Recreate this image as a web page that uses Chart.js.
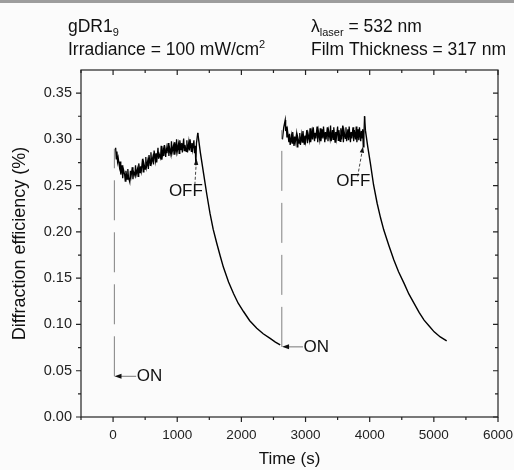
<!DOCTYPE html>
<html>
<head>
<meta charset="utf-8">
<script src="https://cdn.jsdelivr.net/npm/chart.js@4.4.0/dist/chart.umd.min.js"></script>
<style>
  html, body { margin: 0; padding: 0; background: #fbfbfb; }
  #box { width: 514px; height: 470px; }
</style>
</head>
<body>
<div id="box"><canvas id="myChart" width="514" height="470"></canvas></div>
<script>
// tick labels
var xTicks = [0, 1000, 2000, 3000, 4000, 5000, 6000];
var xMinor = [-500, 500, 1500, 2500, 3500, 4500, 5500];
var yTicks = [0, 0.05, 0.10, 0.15, 0.20, 0.25, 0.30, 0.35];
var yMinor = [0.025, 0.075, 0.125, 0.175, 0.225, 0.275, 0.325];

// first writing (laser ON at t=0)
var plateau1Time = [40, 50, 60, 70, 80, 100, 110, 120, 140, 150,
    160, 180, 190, 200, 220, 230, 240, 260, 270, 280,
    300, 310, 320, 340, 350, 360, 380, 390, 400, 420,
    430, 440, 460, 470, 480, 500, 510, 520, 540, 550,
    560, 580, 590, 600, 620, 630, 640, 660, 670, 680,
    700, 710, 720, 740, 750, 760, 780, 790, 800, 820,
    830, 840, 860, 870, 880, 900, 910, 920, 940, 950,
    960, 980, 990, 1000, 1020, 1030, 1040, 1060, 1070, 1080,
    1100, 1110, 1120, 1140, 1150, 1160, 1180, 1190, 1200, 1220,
    1230, 1240, 1260, 1270, 1280, 1290, 1300, 1320];
var plateau1Value = [0.291, 0.279, 0.287, 0.276, 0.280, 0.270, 0.276, 0.262, 0.272, 0.258,
    0.268, 0.262, 0.255, 0.266, 0.257, 0.268, 0.259, 0.254, 0.266, 0.260,
    0.270, 0.257, 0.265, 0.261, 0.272, 0.262, 0.268, 0.260, 0.274, 0.264,
    0.271, 0.266, 0.279, 0.265, 0.274, 0.268, 0.281, 0.270, 0.277, 0.268,
    0.283, 0.272, 0.286, 0.275, 0.281, 0.273, 0.288, 0.277, 0.285, 0.275,
    0.291, 0.279, 0.284, 0.280, 0.293, 0.278, 0.288, 0.282, 0.294, 0.281,
    0.290, 0.285, 0.296, 0.282, 0.291, 0.284, 0.298, 0.286, 0.293, 0.284,
    0.297, 0.288, 0.300, 0.287, 0.295, 0.285, 0.299, 0.289, 0.296, 0.286,
    0.301, 0.288, 0.294, 0.287, 0.299, 0.286, 0.297, 0.288, 0.300, 0.287,
    0.296, 0.289, 0.299, 0.285, 0.293, 0.272, 0.296, 0.307];
var decay1Time = [1320, 1360, 1411, 1460, 1511, 1560, 1615, 1670, 1719, 1800, 1877, 1950, 2033, 2130, 2240, 2340, 2448, 2530, 2605];
var decay1Value = [0.307, 0.286, 0.263, 0.241, 0.220, 0.203, 0.188, 0.174, 0.162, 0.146, 0.1335, 0.123, 0.114, 0.104, 0.096, 0.090, 0.085, 0.081, 0.078];

// second writing
var plateau2Time = [2640, 2660, 2683, 2690, 2700, 2710, 2720, 2740, 2750, 2760,
    2780, 2790, 2800, 2820, 2830, 2840, 2860, 2870, 2880, 2900,
    2910, 2920, 2940, 2950, 2960, 2980, 2990, 3000, 3020, 3030,
    3040, 3060, 3070, 3080, 3100, 3110, 3120, 3140, 3150, 3160,
    3180, 3190, 3200, 3220, 3230, 3240, 3260, 3270, 3280, 3300,
    3310, 3320, 3340, 3350, 3360, 3380, 3390, 3400, 3420, 3430,
    3440, 3460, 3470, 3480, 3500, 3510, 3520, 3540, 3550, 3560,
    3580, 3590, 3600, 3620, 3630, 3640, 3660, 3670, 3680, 3700,
    3710, 3720, 3740, 3750, 3760, 3780, 3790, 3800, 3820, 3830,
    3840, 3860, 3870, 3880, 3890, 3900, 3910, 3920];
var plateau2Value = [0.300, 0.313, 0.321, 0.309, 0.314, 0.302, 0.309, 0.297, 0.306, 0.294,
    0.304, 0.296, 0.308, 0.293, 0.303, 0.297, 0.306, 0.292, 0.302, 0.296,
    0.307, 0.294, 0.305, 0.297, 0.309, 0.295, 0.304, 0.298, 0.310, 0.296,
    0.306, 0.299, 0.312, 0.297, 0.308, 0.300, 0.313, 0.298, 0.307, 0.301,
    0.314, 0.297, 0.309, 0.300, 0.312, 0.298, 0.311, 0.301, 0.314, 0.297,
    0.308, 0.300, 0.313, 0.298, 0.309, 0.301, 0.315, 0.298, 0.310, 0.300,
    0.313, 0.297, 0.308, 0.301, 0.314, 0.299, 0.310, 0.298, 0.312, 0.300,
    0.315, 0.297, 0.309, 0.301, 0.313, 0.298, 0.311, 0.299, 0.314, 0.297,
    0.308, 0.301, 0.313, 0.298, 0.310, 0.300, 0.314, 0.297, 0.311, 0.299,
    0.313, 0.298, 0.309, 0.301, 0.311, 0.292, 0.305, 0.325];
var decay2Time = [3920, 3933, 3970, 4011, 4060, 4116, 4170, 4220, 4300, 4377, 4450, 4536, 4610, 4692, 4770, 4848, 4930, 5005, 5100, 5200];
var decay2Value = [0.325, 0.310, 0.292, 0.274, 0.251, 0.231, 0.215, 0.202, 0.185, 0.1696, 0.157, 0.1444, 0.133, 0.1227, 0.113, 0.1047, 0.098, 0.092, 0.0865, 0.0823];

// switching jumps (thin lines)
var jump1Time = [20, 20];
var jump1Value = [0.044, 0.290];
var jump2Time = [2630, 2630];
var jump2Value = [0.0758, 0.310];

// annotations: [tail time, tail value, tip time, tip value]
var onArrows = [[360, 0.044, 22, 0.044], [2960, 0.0758, 2634, 0.0758]];
var offArrows = [[1275, 0.251, 1300, 0.279], [3812, 0.260, 3895, 0.292]];
var onLabels = [[370, 0.044], [2970, 0.0758]];
var offLabels = [[870, 0.244], [3480, 0.255]];

var FONT = '"Liberation Sans", Arial, sans-serif';

function pairs(t, v) {
    return t.map(function (x, i) { return { x: x, y: v[i] }; });
}

function lineSet(t, v, w, color, dash) {
    return {
        data: pairs(t, v),
        borderColor: color,
        borderWidth: w,
        borderDash: dash || [],
        pointRadius: 0,
        tension: 0,
        fill: false
    };
}

function arrowHead(c, x1, y1, x2, y2, len, half) {
    var ang = Math.atan2(y2 - y1, x2 - x1);
    c.beginPath();
    c.moveTo(x2, y2);
    c.lineTo(x2 - len * Math.cos(ang) + half * Math.sin(ang), y2 - len * Math.sin(ang) - half * Math.cos(ang));
    c.lineTo(x2 - len * Math.cos(ang) - half * Math.sin(ang), y2 - len * Math.sin(ang) + half * Math.cos(ang));
    c.closePath();
    c.fill();
}

function rich(c, x, y, parts) {
    parts.forEach(function (p) {
        var small = p[1] !== '';
        c.font = (small ? '11px ' : '17.5px ') + FONT;
        var dy = p[1] === 'sub' ? 4 : (p[1] === 'sup' ? -7 : 0);
        c.fillText(p[0], x, y + dy);
        x += c.measureText(p[0]).width;
    });
}

var framePlugin = {
    id: 'frame',
    beforeDraw: function (chart) {
        var c = chart.ctx;
        c.save();
        c.fillStyle = '#fbfbfb';
        c.fillRect(0, 0, chart.width, chart.height);
        c.fillStyle = '#9d9d9d';
        c.fillRect(0, 0, chart.width, 3);
        c.restore();
    },
    afterDraw: function (chart) {
        var c = chart.ctx, a = chart.chartArea, xs = chart.scales.x, ys = chart.scales.y;
        c.save();
        c.strokeStyle = '#222';
        c.lineWidth = 1.2;
        c.strokeRect(a.left, a.top, a.right - a.left, a.bottom - a.top);

        c.beginPath();
        xTicks.concat(xMinor).forEach(function (v) {
            var len = xTicks.indexOf(v) >= 0 ? 5 : 3;
            var px = xs.getPixelForValue(v);
            c.moveTo(px, a.bottom); c.lineTo(px, a.bottom + len);
            c.moveTo(px, a.top); c.lineTo(px, a.top + len);
        });
        yTicks.concat(yMinor).forEach(function (v) {
            var len = yTicks.indexOf(v) >= 0 ? 5 : 3;
            var py = ys.getPixelForValue(v);
            c.moveTo(a.left, py); c.lineTo(a.left - len, py);
            c.moveTo(a.right, py); c.lineTo(a.right - len, py);
        });
        c.stroke();

        // ON arrows
        c.fillStyle = '#111';
        onArrows.forEach(function (r) {
            var x1 = xs.getPixelForValue(r[0]), y1 = ys.getPixelForValue(r[1]);
            var x2 = xs.getPixelForValue(r[2]), y2 = ys.getPixelForValue(r[3]);
            c.strokeStyle = '#777';
            c.lineWidth = 1;
            c.beginPath(); c.moveTo(x1, y1); c.lineTo(x2 + 4, y2); c.stroke();
            arrowHead(c, x1, y1, x2, y2, 7, 2.5);
        });
        // OFF arrows
        offArrows.forEach(function (r) {
            var x1 = xs.getPixelForValue(r[0]), y1 = ys.getPixelForValue(r[1]);
            var x2 = xs.getPixelForValue(r[2]), y2 = ys.getPixelForValue(r[3]);
            c.strokeStyle = '#444';
            c.lineWidth = 1;
            c.setLineDash([3, 2]);
            c.beginPath(); c.moveTo(x1, y1); c.lineTo(x2, y2); c.stroke();
            c.setLineDash([]);
            arrowHead(c, x1, y1, x2, y2, 6, 2.2);
        });

        c.fillStyle = '#111';
        c.textBaseline = 'middle';
        c.font = '17px ' + FONT;
        onLabels.forEach(function (p) {
            c.fillText('ON', xs.getPixelForValue(p[0]), ys.getPixelForValue(p[1]));
        });
        offLabels.forEach(function (p) {
            c.fillText('OFF', xs.getPixelForValue(p[0]), ys.getPixelForValue(p[1]));
        });

        // header
        c.textBaseline = 'alphabetic';
        rich(c, 68, 32, [['gDR1', ''], ['9', 'sub']]);
        rich(c, 68, 55, [['Irradiance = 100 mW/cm', ''], ['2', 'sup']]);
        rich(c, 311, 32, [['\u03bb', ''], ['laser', 'sub'], [' = 532 nm', '']]);
        rich(c, 311, 55, [['Film Thickness = 317 nm', '']]);
        c.restore();
    }
};

var ctx = document.getElementById('myChart').getContext('2d');
var myChart = new Chart(ctx, {
    type: 'line',
    data: {
        datasets: [
            lineSet(jump1Time, jump1Value, 1, '#808080', [40, 12]),
            lineSet(jump2Time, jump2Value, 1, '#808080', [40, 12]),
            lineSet(plateau1Time, plateau1Value, 1.3, '#000'),
            lineSet(decay1Time, decay1Value, 1.4, '#000'),
            lineSet(plateau2Time, plateau2Value, 1.3, '#000'),
            lineSet(decay2Time, decay2Value, 1.4, '#000')
        ]
    },
    options: {
        responsive: false,
        animation: false,
        layout: {
            padding: { top: 70, right: 16, left: 0, bottom: 0 }
        },
        plugins: {
            legend: { display: false },
            tooltip: { enabled: false }
        },
        scales: {
            x: {
                type: 'linear',
                min: -500,
                max: 6000,
                afterBuildTicks: function (s) { s.ticks = xTicks.map(function (v) { return { value: v }; }); },
                afterFit: function (s) { s.height = 53; s.paddingLeft = 0; s.paddingRight = 0; },
                grid: { display: false, drawTicks: false },
                border: { display: false },
                ticks: {
                    color: '#222',
                    padding: 10,
                    maxRotation: 0,
                    autoSkip: false,
                    font: { family: FONT, size: 13.5 },
                    callback: function (v) { return String(v); }
                },
                title: {
                    display: true,
                    text: 'Time (s)',
                    color: '#111',
                    font: { family: FONT, size: 17 },
                    padding: { top: 0, bottom: 0 }
                }
            },
            y: {
                min: 0,
                max: 0.375,
                afterBuildTicks: function (s) { s.ticks = yTicks.map(function (v) { return { value: v }; }); },
                afterFit: function (s) { s.width = 81; s.paddingTop = 0; s.paddingBottom = 0; },
                grid: { display: false, drawTicks: false },
                border: { display: false },
                ticks: {
                    color: '#222',
                    padding: 9,
                    autoSkip: false,
                    font: { family: FONT, size: 14.5 },
                    callback: function (v) { return v.toFixed(2); }
                },
                title: {
                    display: true,
                    text: 'Diffraction efficiency (%)',
                    color: '#111',
                    font: { family: FONT, size: 18 },
                    padding: { top: 9, bottom: 0 }
                }
            }
        }
    },
    plugins: [framePlugin]
});
</script>
</body>
</html>
